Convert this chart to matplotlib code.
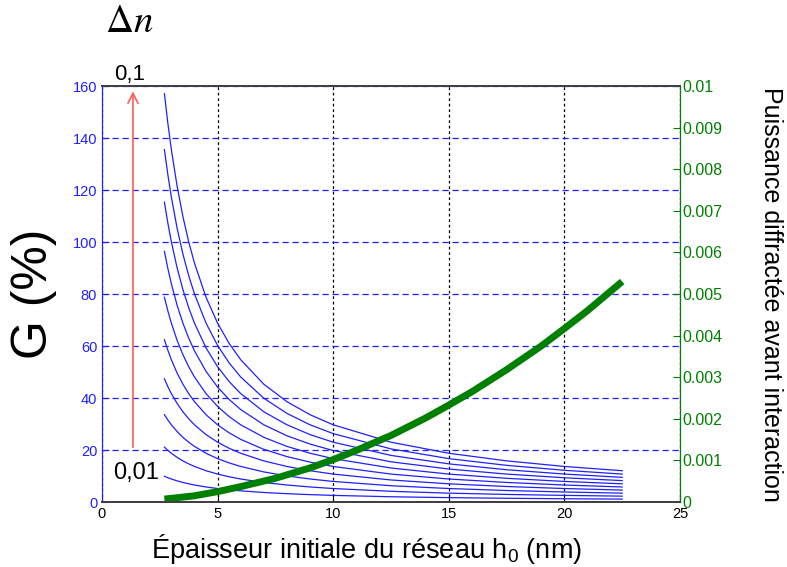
import matplotlib
matplotlib.use("Agg")
import matplotlib.pyplot as plt

plt.rcParams["font.family"] = ["Liberation Sans", "DejaVu Sans"]
plt.rcParams["mathtext.fontset"] = "custom"
plt.rcParams["mathtext.rm"] = "Liberation Sans"
plt.rcParams["mathtext.it"] = "Liberation Sans:italic"

# epaisseur h0 (nm)
h0 = [2.7, 2.85, 3, 3.25, 3.5, 3.75, 4, 4.5, 5, 5.5, 6, 7, 8, 9, 10,
      12.5, 15, 17.5, 20, 22.5]

# G (%) pour chaque Delta n, de 0,01 a 0,1
G_001 = [9.90, 9.35, 8.86, 8.14, 7.53, 7.00, 6.54, 5.79, 5.19, 4.70, 4.30, 3.67,
         3.20, 2.84, 2.55, 2.03, 1.69, 1.44, 1.26, 1.12]
G_002 = [21.10, 19.85, 18.76, 17.16, 15.82, 14.67, 13.68, 12.04, 10.75, 9.71, 8.85,
         7.52, 6.54, 5.79, 5.19, 4.12, 3.41, 2.92, 2.55, 2.26]
G_003 = [33.58, 31.53, 29.70, 27.09, 24.88, 23.01, 21.39, 18.76, 16.69, 15.04, 13.68,
         11.57, 10.04, 8.85, 7.92, 6.27, 5.19, 4.43, 3.86, 3.41]
G_004 = [47.36, 44.35, 41.69, 37.89, 34.71, 32.02, 29.70, 25.93, 23.01, 20.67, 18.76,
         15.81, 13.67, 12.04, 10.75, 8.48, 7.00, 5.97, 5.19, 4.59]
G_005 = [62.42, 58.33, 54.73, 49.59, 45.30, 41.69, 38.60, 33.58, 29.70, 26.62, 24.10,
         20.26, 17.47, 15.34, 13.68, 10.75, 8.85, 7.53, 6.54, 5.79]
G_006 = [78.76, 73.46, 68.80, 62.17, 56.67, 52.03, 48.08, 41.70, 36.77, 32.86, 29.70,
         24.88, 21.39, 18.76, 16.69, 13.08, 10.75, 9.12, 7.92, 7.00]
G_007 = [96.40, 89.75, 83.92, 75.65, 68.80, 63.05, 58.15, 50.26, 44.21, 39.43, 35.57,
         29.70, 25.48, 22.29, 19.80, 15.47, 12.69, 10.75, 9.33, 8.24]
G_008 = [115.33, 107.21, 100.08, 90.02, 81.70, 74.73, 68.80, 59.30, 52.03, 46.31, 41.70,
         34.71, 29.70, 25.93, 23.01, 17.93, 14.68, 12.42, 10.76, 9.49]
G_009 = [135.55, 125.82, 117.30, 105.28, 95.37, 87.07, 80.05, 68.80, 60.23, 53.50, 48.08,
         39.91, 34.08, 29.70, 26.31, 20.44, 16.69, 14.11, 12.21, 10.75]
G_010 = [157.06, 145.58, 135.55, 121.42, 109.80, 100.09, 91.88, 78.77, 68.80, 60.99, 54.73,
         45.30, 38.59, 33.58, 29.70, 23.01, 18.76, 15.83, 13.68, 12.04]
G_curves = [G_001, G_002, G_003, G_004, G_005, G_006, G_007, G_008, G_009, G_010]

# puissance diffractee avant interaction
h_p = [2.7, 4, 5, 6, 7.5, 9, 10, 11, 12.5, 14, 15, 16, 17.5, 19, 20, 21, 22.5]
P_diff = [0.00007, 0.00015, 0.00025, 0.00037, 0.00057, 0.00082, 0.00102, 0.00124,
          0.00160, 0.00202, 0.00233, 0.00265, 0.00318, 0.00375, 0.00417, 0.00460, 0.0053]

blue = "#2020ff"
green = "#008000"

fig = plt.figure(figsize=(7.87, 5.67), dpi=100)
ax = fig.add_axes([0.1296, 0.1146, 0.7344, 0.7337])

for G in G_curves:
    ax.plot(h0, G, color=blue, lw=0.9)

ax.set_xlim(0, 25)
ax.set_ylim(0, 160)
ax.set_xticks([0, 5, 10, 15, 20, 25])
ax.set_yticks(range(0, 161, 20))
ax.xaxis.grid(True, color="black", linestyle=(0, (2.2, 2.2)), lw=0.9)
ax.yaxis.grid(True, color=blue, linestyle=(0, (5, 3)), lw=0.9)
ax.tick_params(axis="x", direction="in", colors="black", labelcolor="black",
               labelsize=10.5, length=5)
ax.tick_params(axis="y", direction="in", colors=blue, labelcolor=blue,
               labelsize=10.5, length=5)
ax.spines["left"].set_color(blue)
ax.spines["top"].set_color("#404040")
ax.spines["bottom"].set_color("#404040")
ax.spines["top"].set_linewidth(1.4)
ax.spines["bottom"].set_linewidth(1.4)

ax.set_xlabel("Épaisseur initiale du réseau h$_0$ (nm)", fontsize=19.5)
ax.xaxis.set_label_coords(0.458, -0.072)
ax.set_ylabel("G (%)", fontsize=36, labelpad=11)

# fleche Delta n
ax.annotate("", xy=(1.34, 159), xytext=(1.34, 20),
            arrowprops=dict(arrowstyle="->", color="#ff5a5a", lw=1.2,
                            mutation_scale=18))
ax.text(1.21, 164.5, "0,1", fontsize=16, ha="center", va="center", clip_on=False)
ax.text(1.49, 11, "0,01", fontsize=17, ha="center", va="center")
fig.text(0.164, 0.961, r"$\Delta n$", fontsize=28, ha="center", va="center",
         math_fontfamily="stix")

ax2 = ax.twinx()
ax2.plot(h_p, P_diff, color=green, lw=5, solid_capstyle="butt")
ax2.set_ylim(0, 0.01)
ax2.set_yticks([i / 1000 for i in range(11)])
ax2.set_yticklabels(["0"] + ["0.%03d" % i for i in range(1, 10)] + ["0.01"])
ax2.tick_params(axis="y", direction="in", colors=green, labelcolor=green,
                labelsize=11.5, length=5, pad=2)
ax2.spines["right"].set_color(green)
ax2.spines["left"].set_color(blue)
ax2.spines["top"].set_color("#404040")
ax2.spines["bottom"].set_color("#404040")
ax2.spines["top"].set_linewidth(1.4)
ax2.spines["bottom"].set_linewidth(1.4)
ax2.set_ylabel("Puissance diffractée avant interaction", fontsize=18,
               rotation=-90, labelpad=43)

fig.savefig("out.png", dpi=100)
